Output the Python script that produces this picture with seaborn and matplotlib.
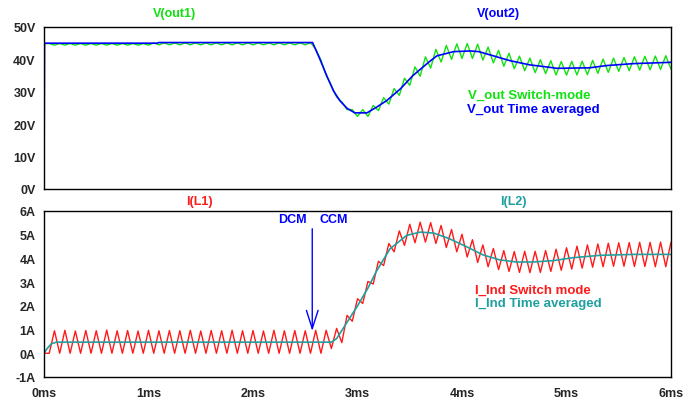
import numpy as np
import pandas as pd
import matplotlib
matplotlib.use("Agg")
import matplotlib.pyplot as plt
import seaborn as sns

# ---------------- data ----------------
# switching waveforms: vertices every 0.05 ms from 0 to 6 ms
i_sw = [0.0, 0.0,
        0.95, 0.0, 0.97, 0.0, 0.94, 0.0, 0.96, 0.0, 0.95, 0.0, 0.98, 0.0,
        0.95, 0.0, 0.96, 0.0, 0.94, 0.0, 0.97, 0.0, 0.95, 0.0, 0.96, 0.0,
        0.95, 0.0, 0.97, 0.0, 0.94, 0.0, 0.96, 0.0, 0.95, 0.0, 0.97, 0.0,
        0.95, 0.0, 0.96, 0.0, 0.94, 0.0, 0.97, 0.0, 0.95, 0.0, 0.96, 0.0,
        0.95, 0.0, 0.97, 0.0,
        0.97, 0.2, 1.05, 0.45, 1.6, 1.35, 2.3, 2.1, 3.03, 2.92,
        3.88, 3.7, 4.63, 4.28, 5.16, 4.55, 5.44, 4.66, 5.53, 4.69,
        5.51, 4.63, 5.39, 4.46, 5.22, 4.28, 5.02, 4.06, 4.79, 3.83,
        4.57, 3.65, 4.42, 3.53, 4.33, 3.45, 4.29, 3.41, 4.3, 3.4,
        4.3, 3.41, 4.33, 3.45, 4.39, 3.5, 4.45, 3.55, 4.52, 3.59,
        4.57, 3.63, 4.61, 3.65, 4.64, 3.67, 4.66, 3.67, 4.67, 3.66,
        4.68, 3.66, 4.68, 3.65, 4.69, 3.65, 4.69]

v_sw = [44.9,
        44.9, 44.4, 44.9, 44.4, 44.9, 44.4, 44.9, 44.4, 44.9, 44.4,
        44.9, 44.4, 44.9, 44.4, 44.9, 44.4, 44.9, 44.4, 44.9, 44.4,
        45.1, 44.5, 45.1, 44.5, 45.1, 44.5, 45.1, 44.5, 45.1, 44.5,
        45.1, 44.5, 45.1, 44.5, 45.1, 44.5, 45.1, 44.5, 45.1, 44.5,
        45.1, 44.5, 45.1, 44.5, 45.1, 44.5, 45.1, 44.5, 45.1, 44.5,
        45.2, 43.2, 39.8, 35.1, 31.9, 28.4, 26.9, 24.5, 24.5, 22.4,
        24.5, 22.4, 25.8, 24.2, 28.2, 26.2, 31.0, 28.9, 34.2, 32.0,
        37.7, 34.8, 40.8, 37.3, 43.1, 39.2, 44.3, 40.0, 44.8, 40.3,
        44.9, 40.3, 44.7, 39.8, 43.8, 38.9, 42.8, 37.9, 41.9, 37.1,
        41.0, 36.5, 40.4, 35.9, 39.9, 35.6, 39.6, 35.2, 39.35, 35.15,
        39.4, 35.2, 39.45, 35.3, 39.7, 35.7, 40.1, 36.0, 40.4, 36.3,
        40.6, 36.5, 40.8, 36.7, 40.95, 36.8, 41.05, 36.9, 41.15, 37.0]

assert len(i_sw) == 121 and len(v_sw) == 121
t_sw = np.round(np.arange(121) * 0.05, 2)

# time-averaged waveforms
t_vavg = [0, 0.005, 1.08, 1.1, 2.57, 2.64, 2.705, 2.77, 2.83, 2.9, 2.975, 3.09,
          3.18, 3.28, 3.41, 3.53, 3.68, 3.76, 3.92, 4.08, 4.16, 4.30, 4.46,
          4.65, 4.83, 4.905, 5.22, 5.385, 5.64, 6.0]
v_avg = [0, 45.0, 45.0, 45.2, 45.2, 40.1, 35.0, 30.3, 27.3, 24.9, 23.5, 23.5,
         25.2, 27.3, 30.9, 35.0, 39.1, 41.1, 42.4, 42.6, 42.4, 41.1, 39.6,
         38.3, 37.6, 37.25, 37.4, 38.1, 38.7, 39.1]

t_iavg = [0, 0.03, 0.07, 0.12, 2.75, 2.8, 2.87, 3.0, 3.1, 3.18, 3.31, 3.47,
          3.6, 3.73, 3.88, 4.05, 4.2, 4.36, 4.52, 4.68, 4.88, 5.06, 5.32,
          5.64, 6.0]
i_avg = [0, 0.2, 0.4, 0.47, 0.47, 0.62, 1.1, 2.0, 2.75, 3.45, 4.4, 4.97,
         5.11, 5.07, 4.83, 4.48, 4.15, 3.94, 3.85, 3.85, 3.91, 4.03, 4.13,
         4.17, 4.17]

x_ticks = [0, 1, 2, 3, 4, 5, 6]
x_labels = ["0ms", "1ms", "2ms", "3ms", "4ms", "5ms", "6ms"]
v_ticks = [0, 10, 20, 30, 40, 50]
v_labels = ["0V", "10V", "20V", "30V", "40V", "50V"]
i_ticks = [-1, 0, 1, 2, 3, 4, 5, 6]
i_labels = ["-1A", "0A", "1A", "2A", "3A", "4A", "5A", "6A"]

# ---------------- style ----------------
sns.set_theme(style="white")
plt.rcParams["font.family"] = ["Liberation Sans", "DejaVu Sans"]
plt.rcParams["font.weight"] = "bold"

GREEN = "#11e011"
BLUE = "#0000ff"
RED = "#ff1a1a"
TEAL = "#1fa0a0"

fig = plt.figure(figsize=(6.96, 4.02), dpi=100)
W, H = 696, 402
ax1 = fig.add_axes([44 / W, 1 - 190 / H, (671 - 44) / W, (190 - 28) / H])
ax2 = fig.add_axes([44 / W, 1 - 378 / H, (671 - 44) / W, (378 - 212) / H])

sns.lineplot(x=t_sw, y=v_sw, ax=ax1, color=GREEN, lw=1.0, sort=False, estimator=None)
sns.lineplot(x=t_vavg, y=v_avg, ax=ax1, color=BLUE, lw=1.2, sort=False, estimator=None)
sns.lineplot(x=t_sw, y=i_sw, ax=ax2, color=RED, lw=1.0, sort=False, estimator=None)
sns.lineplot(x=t_iavg, y=i_avg, ax=ax2, color=TEAL, lw=1.2, sort=False, estimator=None)

for ax in (ax1, ax2):
    ax.set_xlim(0, 6)
    ax.set_xlabel("")
    ax.set_ylabel("")
    for s in ax.spines.values():
        s.set_color("black")
        s.set_linewidth(1.0)
    ax.tick_params(axis="both", direction="out", length=4.5, width=1,
                   color="black", labelsize=9, pad=1.5)

ax1.set_ylim(0, 50)
ax1.set_yticks(v_ticks)
ax1.set_yticklabels(v_labels, fontweight="bold")
ax1.set_xticks([])

ax2.set_ylim(-1, 6)
ax2.set_yticks(i_ticks)
ax2.set_yticklabels(i_labels, fontweight="bold")
ax2.set_xticks(x_ticks)
ax2.set_xticklabels(x_labels, fontweight="bold")
ax2.tick_params(axis="x", pad=3)

fs = 9
fig.text(175 / W, 1 - 14 / H, "V(out1)", color=GREEN, fontsize=fs, fontweight="bold", ha="center", va="center")
fig.text(498 / W, 1 - 14 / H, "V(out2)", color=BLUE, fontsize=fs, fontweight="bold", ha="center", va="center")
fig.text(199 / W, 1 - 202 / H, "I(L1)", color=RED, fontsize=fs, fontweight="bold", ha="center", va="center")
fig.text(513 / W, 1 - 202 / H, "I(L2)", color=TEAL, fontsize=fs, fontweight="bold", ha="center", va="center")

ax1.text(4.06, 29.1, "V_out Switch-mode", color=GREEN, fontsize=9.5, fontweight="bold", ha="left", va="center")
ax1.text(4.05, 24.6, "V_out Time averaged", color=BLUE, fontsize=9.5, fontweight="bold", ha="left", va="center")
ax2.text(4.12, 2.68, "I_Ind Switch mode", color=RED, fontsize=9.5, fontweight="bold", ha="left", va="center")
ax2.text(4.12, 2.12, "I_Ind Time averaged", color=TEAL, fontsize=9.5, fontweight="bold", ha="left", va="center")

ax2.text(2.375, 5.67, "DCM", color=BLUE, fontsize=9, fontweight="bold", ha="center", va="center")
ax2.text(2.77, 5.67, "CCM", color=BLUE, fontsize=9, fontweight="bold", ha="center", va="center")
ax2.annotate("", xy=(2.567, 0.94), xytext=(2.567, 5.25),
             arrowprops=dict(arrowstyle="->,head_length=1.1,head_width=0.35",
                             color=BLUE, lw=1.0, shrinkA=0, shrinkB=0))

fig.savefig("out.png", dpi=100)
